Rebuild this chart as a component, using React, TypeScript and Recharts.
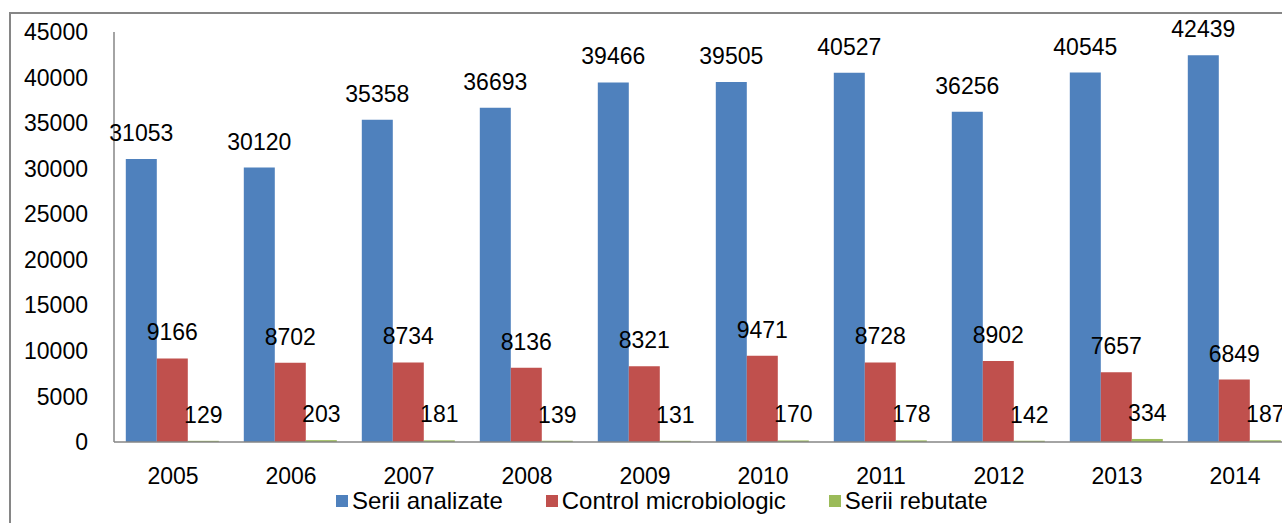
import React from 'react';
import { BarChart, Bar, XAxis, YAxis, Legend, LabelList } from 'recharts';

const years = ['2005', '2006', '2007', '2008', '2009', '2010', '2011', '2012', '2013', '2014'];
const seriiAnalizate = [31053, 30120, 35358, 36693, 39466, 39505, 40527, 36256, 40545, 42439];
const controlMicrobiologic = [9166, 8702, 8734, 8136, 8321, 9471, 8728, 8902, 7657, 6849];
const seriiRebutate = [129, 203, 181, 139, 131, 170, 178, 142, 334, 187];
const yTicks = [0, 5000, 10000, 15000, 20000, 25000, 30000, 35000, 40000, 45000];

const series = [
  { key: 'analizate', name: 'Serii analizate', color: '#4f81bd' },
  { key: 'control', name: 'Control microbiologic', color: '#c0504d' },
  { key: 'rebutate', name: 'Serii rebutate', color: '#9bbb59' },
];

const font = '"Liberation Sans", Arial, sans-serif';
const axisGrey = '#868686';

const LegendBox = () => (
  <div style={{ display: 'flex', alignItems: 'center', fontFamily: font, fontSize: 24, lineHeight: '20px', color: '#000', whiteSpace: 'nowrap' }}>
    {series.map((s, i) => (
      <div key={s.key} style={{ display: 'flex', alignItems: 'center', marginLeft: i === 0 ? 0 : 43 }}>
        <span style={{ display: 'inline-block', width: 12, height: 12, background: s.color, marginRight: 4 }} />
        <span>{s.name}</span>
      </div>
    ))}
  </div>
);

const App: React.FC = () => {
  const data = years.map((year, i) => ({
    year,
    analizate: seriiAnalizate[i],
    control: controlMicrobiologic[i],
    rebutate: seriiRebutate[i],
  }));

  return (
    <div style={{ position: 'absolute', left: 0, top: 0, width: 1282, height: 523, overflow: 'hidden', background: '#fff' }}>
      <div
        style={{
          position: 'absolute',
          left: 9,
          top: 12,
          width: 1400,
          height: 600,
          borderTop: `2px solid ${axisGrey}`,
          borderLeft: `2px solid ${axisGrey}`,
        }}
      />
      <div style={{ position: 'absolute', left: 0, top: 0 }}>
        <BarChart
          width={1294}
          height={523}
          data={data}
          margin={{ top: 32, right: 0, left: 0, bottom: 0 }}
          barCategoryGap="10%"
          barGap={0}
        >
          <XAxis
            dataKey="year"
            height={81}
            tickLine={false}
            tickSize={0}
            tickMargin={26}
            axisLine={{ stroke: axisGrey, strokeWidth: 1.5 }}
            tick={{ fill: '#000', fontSize: 23, fontFamily: font }}
            interval={0}
          />
          <YAxis
            width={114}
            domain={[0, 45000]}
            ticks={yTicks}
            tickLine={false}
            tickSize={0}
            tickMargin={26}
            axisLine={{ stroke: axisGrey, strokeWidth: 1.5 }}
            tick={{ fill: '#000', fontSize: 23, fontFamily: font }}
            interval={0}
          />
          <Legend
            verticalAlign="middle"
            layout="horizontal"
            content={() => <LegendBox />}
            wrapperStyle={{ top: 491, left: 336, width: 'auto' }}
          />
          {series.map((s) => (
            <Bar key={s.key} dataKey={s.key} name={s.name} fill={s.color} isAnimationActive={false}>
              <LabelList
                dataKey={s.key}
                position="top"
                offset={18}
                fill="#000"
                fontSize={23}
                fontFamily={font}
              />
            </Bar>
          ))}
        </BarChart>
      </div>
    </div>
  );
};

export default App;
